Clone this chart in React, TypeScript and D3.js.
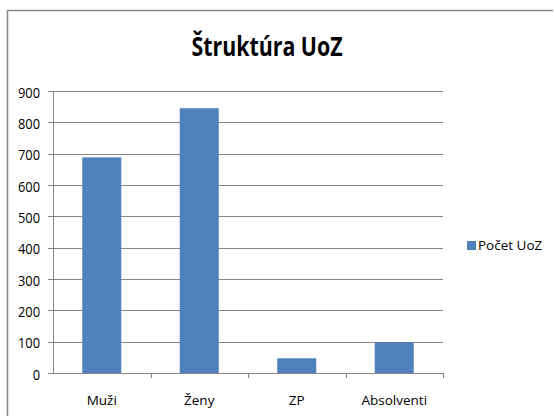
import React from "react";
import * as d3 from "d3";

const categories = ["Muži", "Ženy", "ZP", "Absolventi"];
const values = [688, 845, 47, 98];
const yTicks = [0, 100, 200, 300, 400, 500, 600, 700, 800, 900];
const seriesName = "Počet UoZ";
const title = "Štruktúra UoZ";

const W = 554, H = 416;
const left = 53, right = 443, top = 91, bottom = 373;
const FONT = "'Open Sans', sans-serif";

export default function App() {
  const x = d3.scaleBand<string>().domain(categories).range([left, right]).paddingInner(0.6).paddingOuter(0.3);
  const band = d3.scaleBand<string>().domain(categories).range([left, right]);
  const y = d3.scaleLinear().domain([0, 900]).range([bottom, top]);
  return (
    <svg width={W} height={H} style={{ position: "absolute", left: 0, top: 0 }} fontFamily={FONT}>
      <rect x={0} y={0} width={W} height={H} fill="#fff" />
      <line x1={7} y1={10.5} x2={553} y2={10.5} stroke="#868686" strokeWidth={1.5} />
      <line x1={7.5} y1={10} x2={7.5} y2={416} stroke="#868686" strokeWidth={1.5} />
      <text transform="translate(267,56) scale(0.79,1)" textAnchor="middle" fontSize={27} fontWeight="bold" fill="#000">{title}</text>
      {yTicks.map((t) => (
        <g key={t}>
          <line x1={48} x2={right} y1={Math.round(y(t)) + 0.5} y2={Math.round(y(t)) + 0.5} stroke="#868686" />
          <text transform={`translate(40,${y(t) + 6.5}) scale(0.92,1.05)`} textAnchor="end" fontSize={14} fill="#000">{t}</text>
        </g>
      ))}
      <line x1={53.5} x2={53.5} y1={top} y2={bottom} stroke="#868686" />
      {categories.map((c, i) => (
        <g key={c}>
          <line x1={Math.round(band(c)! + band.bandwidth()) + 0.5} x2={Math.round(band(c)! + band.bandwidth()) + 0.5} y1={bottom} y2={bottom + 5} stroke="#868686" />
          <rect x={x(c)} y={y(values[i])} width={x.bandwidth()} height={bottom - y(values[i])} fill="#4F81BD" />
          <text x={band(c)! + band.bandwidth() / 2} y={405} textAnchor="middle" fontSize={13.5} fill="#000">{c}</text>
        </g>
      ))}
      <rect x={467} y={241} width={9} height={9} fill="#4F81BD" />
      <text x={478} y={250} fontSize={13.5} fill="#000">{seriesName}</text>
    </svg>
  );
}
